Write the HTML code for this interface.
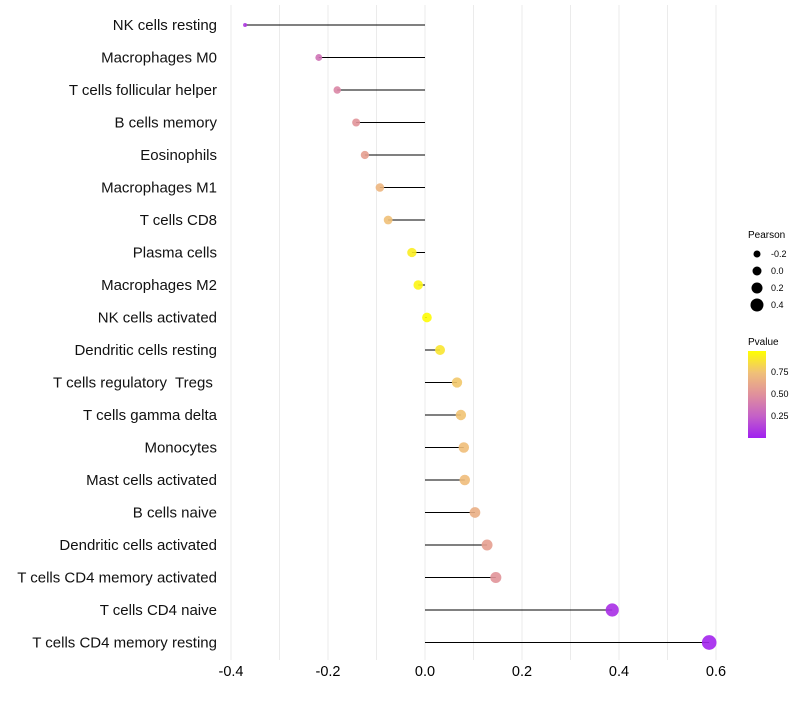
<!DOCTYPE html>
<html><head><meta charset="utf-8"><style>
body{margin:0;background:#fff;font-family:"Liberation Sans",sans-serif}
text{white-space:pre}
</style></head><body>
<svg id="c" width="800" height="700" xmlns="http://www.w3.org/2000/svg">
<defs><linearGradient id="pg" x1="0" y1="1" x2="0" y2="0">
<stop offset="0" stop-color="#a020f0"/><stop offset="0.25" stop-color="#c460c8"/><stop offset="0.5" stop-color="#e0909c"/><stop offset="0.75" stop-color="#f0c078"/><stop offset="1" stop-color="#ffff00"/></linearGradient></defs>
<g id="grid"></g><g id="marks"></g><g id="labels"></g>
<g font-size="9" fill="#000">
<text x="748" y="238" font-size="10">Pearson</text>
<circle cx="757" cy="254" r="3.5"/><text x="771" y="257">-0.2</text>
<circle cx="757" cy="271" r="4.5"/><text x="771" y="274">0.0</text>
<circle cx="757" cy="288" r="5.5"/><text x="771" y="291">0.2</text>
<circle cx="757" cy="305" r="6.5"/><text x="771" y="308">0.4</text>
<text x="748" y="345" font-size="10">Pvalue</text>
<rect x="748" y="351" width="18" height="87" fill="url(#pg)"/>
<text x="771" y="375">0.75</text><text x="771" y="397">0.50</text><text x="771" y="419">0.25</text>
</g>
</svg>
<script>
const categories=["NK cells resting","Macrophages M0","T cells follicular helper","B cells memory","Eosinophils","Macrophages M1","T cells CD8","Plasma cells","Macrophages M2","NK cells activated","Dendritic cells resting","T cells regulatory  Tregs ","T cells gamma delta","Monocytes","Mast cells activated","B cells naive","Dendritic cells activated","T cells CD4 memory activated","T cells CD4 naive","T cells CD4 memory resting"];
const pearson=[-0.371,-0.219,-0.181,-0.142,-0.124,-0.093,-0.076,-0.027,-0.014,0.004,0.031,0.066,0.074,0.080,0.082,0.103,0.128,0.146,0.386,0.586];
const pvalue=[0.10,0.35,0.45,0.52,0.58,0.70,0.75,0.93,0.96,0.99,0.90,0.78,0.76,0.74,0.73,0.66,0.58,0.52,0.06,0.02];
const ticks=[-0.4,-0.2,0,0.2,0.4,0.6];
const NS="http://www.w3.org/2000/svg";
const x=v=>425+v*485;
const y=i=>25+i*32.5;
const rr=v=>Math.sqrt(4+52*(v+0.37));
const stops=[[0,[160,32,240]],[0.25,[196,96,200]],[0.5,[224,144,156]],[0.75,[240,192,120]],[1,[255,255,0]]];
function col(p){for(let k=1;k<stops.length;k++){if(p<=stops[k][0]){const a=stops[k-1],b=stops[k],t=(p-a[0])/(b[0]-a[0]);return "rgb("+a[1].map((c,j)=>Math.round(c+(b[1][j]-c)*t)).join(",")+")";}}return "rgb(255,255,0)";}
function mk(tag,at,parent){const e=document.createElementNS(NS,tag);for(const k in at)e.setAttribute(k,at[k]);document.getElementById(parent).appendChild(e);return e;}
for(let k=-4;k<=6;k++){const v=k/10;const g=mk("line",{x1:x(v),x2:x(v),y1:5,y2:660,stroke:"#ebebeb","stroke-width":1},"grid");

}
ticks.forEach(t=>{const e=mk("text",{x:x(t),y:676,"text-anchor":"middle","font-size":14.5,fill:"#000"},"labels");e.textContent=t===0?"0.0":t.toFixed(1);

});
categories.forEach((c,i)=>{
const t=mk("text",{x:217,y:y(i)+5,"text-anchor":"end","font-size":15,fill:"#111"},"labels");t.textContent=c;


const l=mk("line",{x1:x(0),x2:x(pearson[i]),y1:y(i),y2:y(i),stroke:"#000","stroke-width":1},"marks");


const p=mk("circle",{cx:x(pearson[i]),cy:y(i),r:rr(pearson[i]),fill:col(pvalue[i]),"fill-opacity":0.9},"marks");


});
</script>
</body></html>
